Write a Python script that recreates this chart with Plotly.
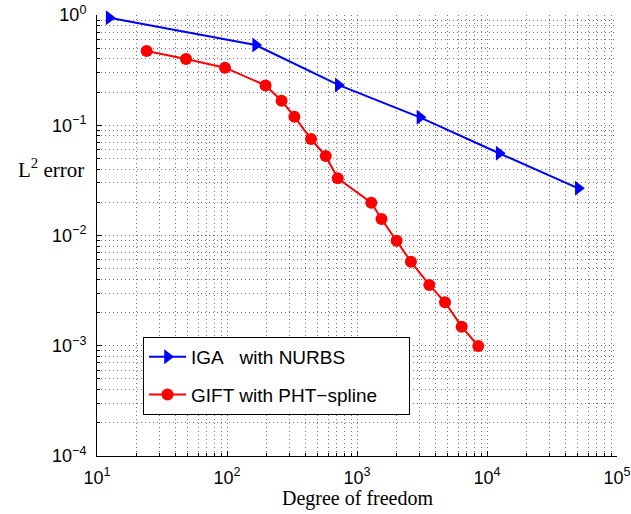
import plotly.graph_objects as go

# ---- data ----
iga_dof = [12.4, 166, 718, 3050, 12400, 50400]
iga_err = [0.945, 0.534, 0.232, 0.118, 0.0557, 0.0268]

gift_dof = [24.1, 48.4, 96.5, 198, 263, 330, 443, 575, 711, 1288, 1543, 2018,
            2600, 3600, 4755, 6385, 8570]
gift_err = [0.471, 0.399, 0.333, 0.2295, 0.167, 0.1196, 0.0750, 0.0526, 0.0330,
            0.01985, 0.01412, 0.00897, 0.00578, 0.00356, 0.00248, 0.00149, 0.000995]

x_tickvals = [10, 100, 1000, 10000, 100000]
x_ticktext = ["10<sup>1</sup>", "10<sup>2</sup>", "10<sup>3</sup>", "10<sup>4</sup>", "10<sup>5</sup>"]
y_tickvals = [1e-4, 1e-3, 1e-2, 1e-1, 1]
y_ticktext = ["10<sup>\u22124</sup>", "10<sup>\u22123</sup>", "10<sup>\u22122</sup>",
              "10<sup>\u22121</sup>", "10<sup>0</sup>"]

x_minor = [m * 10 ** e for e in range(1, 5) for m in range(2, 10)]
y_minor = [m * 10.0 ** e for e in range(-4, 0) for m in range(2, 10)]

grid_col = "rgba(0,0,0,0.55)"
grid_dash = "1px,3px"

fig = go.Figure()
fig.add_trace(go.Scatter(
    x=iga_dof, y=iga_err, mode="lines+markers",
    name="IGA\u00a0\u00a0\u00a0with NURBS", legendgroup="a",
    line=dict(color="#0000ff", width=2),
    marker=dict(symbol="triangle-right", size=13, color="#0000ff"),
    cliponaxis=False,
))
fig.add_trace(go.Scatter(
    x=gift_dof, y=gift_err, mode="lines+markers",
    name="GIFT with PHT\u2212spline" + "\u00a0" * 5, legendgroup="b",
    line=dict(color="#ff0000", width=2),
    marker=dict(symbol="circle", size=12, color="#ff0000"),
    cliponaxis=False,
))

axis_common = dict(
    showline=True, linecolor="black", linewidth=1, mirror=False,
    ticks="inside", ticklen=5, tickcolor="black", tickwidth=1,
    showgrid=True, gridcolor=grid_col, griddash=grid_dash, gridwidth=1,
    zeroline=False, automargin=False,
    tickfont=dict(family="Liberation Sans, Arial", size=18, color="black"),
)

fig.update_xaxes(
    type="log", range=[1, 5],
    tickmode="array", tickvals=x_tickvals, ticktext=x_ticktext,
    minor=dict(tickmode="array", tickvals=x_minor, ticks="inside", ticklen=3,
               tickcolor="black", showgrid=True, gridcolor=grid_col,
               griddash=grid_dash, gridwidth=1),
    ticklabelstandoff=5,
    **axis_common,
)
fig.update_yaxes(
    type="log", range=[-4, 0],
    tickmode="array", tickvals=y_tickvals, ticktext=y_ticktext,
    minor=dict(tickmode="array", tickvals=y_minor, ticks="inside", ticklen=3,
               tickcolor="black", showgrid=True, gridcolor=grid_col,
               griddash=grid_dash, gridwidth=1),
    ticklabelstandoff=6,
    **axis_common,
)

fig.add_annotation(
    text="Degree of freedom", xref="paper", yref="paper", x=0.5, y=0,
    xanchor="center", yanchor="top", yshift=-29, showarrow=False,
    font=dict(family="Liberation Serif, Times New Roman", size=20, color="black"),
)
fig.add_annotation(
    text="L<sup>2</sup> error", xref="paper", yref="paper", x=0, y=0.653,
    xanchor="right", yanchor="middle", xshift=-11, showarrow=False,
    font=dict(family="Liberation Serif, Times New Roman", size=21, color="black"),
)

fig.update_layout(
    width=631, height=514,
    margin=dict(l=97, r=14, t=15, b=58, autoexpand=False),
    paper_bgcolor="white", plot_bgcolor="white",
    showlegend=True,
    legend=dict(
        x=0.0885, y=0.27, xanchor="left", yanchor="top",
        bgcolor="white", bordercolor="black", borderwidth=1,
        font=dict(family="Liberation Sans, Arial", size=19, color="black"),
        traceorder="grouped", tracegroupgap=10,
        itemwidth=37,
    ),
)

fig.write_html("out.html")
